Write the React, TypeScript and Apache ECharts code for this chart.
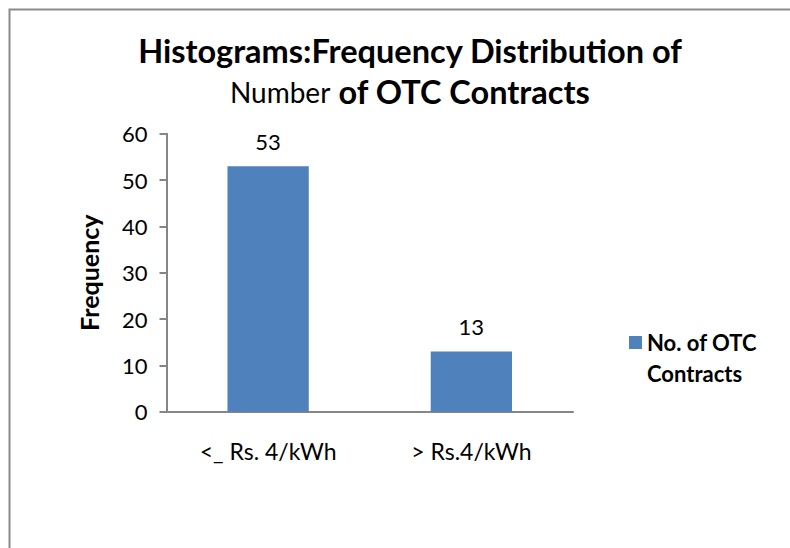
import React, { useEffect, useRef } from "react";
import * as echarts from "echarts";

const categories = ["<_ Rs. 4/kWh", "> Rs.4/kWh"];
const seriesName = "No. of OTC Contracts";
const values = [53, 13];
const yTicks = { min: 0, max: 60, interval: 10 };

export default function App() {
  const ref = useRef<HTMLDivElement>(null);
  useEffect(() => {
    document.body.style.margin = "0";
    const chart = echarts.init(ref.current!, null, { renderer: "svg" });
    const font = "Lato, 'Noto Sans', sans-serif";
    chart.setOption({
      animation: false,
      backgroundColor: "#ffffff",
      textStyle: { fontFamily: font },
      graphic: [
        {
          type: "rect",
          shape: { x: 9.5, y: 9.5, width: 800, height: 560 },
          style: { fill: "none", stroke: "#8a8a8a", lineWidth: 2 },
          silent: true,
        },
      ],
      title: {
        text: "{b|Histograms:Frequency Distribution of}\n{n|Number}{b| of OTC Contracts}",
        left: 405,
        top: 25,
        textAlign: "center",
        textStyle: {
          rich: {
            b: { fontFamily: font, fontWeight: "bold", fontSize: 32.5, color: "#000", lineHeight: 41 },
            n: { fontFamily: font, fontWeight: "normal", fontSize: 28, color: "#000", lineHeight: 41 },
          },
        },
      },
      legend: {
        data: [seriesName],
        left: 624,
        top: 291,
        orient: "vertical",
        itemWidth: 13,
        itemHeight: 13,
        itemGap: 8,
        icon: "rect",
        formatter: () => " \nNo. of OTC\nContracts",
        textStyle: {
          fontFamily: font,
          fontWeight: "bold",
          fontSize: 22,
          color: "#000",
          lineHeight: 31,
        },
      },
      grid: { left: 166.5, right: 217, top: 133.7, bottom: 136.3, containLabel: false },
      xAxis: {
        type: "category",
        data: categories,
        axisLine: { lineStyle: { color: "#868686", width: 2 } },
        axisTick: { show: false },
        axisLabel: { color: "#000", fontSize: 23, fontFamily: font, margin: 28 },
      },
      yAxis: {
        type: "value",
        min: yTicks.min,
        max: yTicks.max,
        interval: yTicks.interval,
        name: "Frequency",
        nameLocation: "middle",
        nameGap: 65,
        nameTextStyle: { color: "#000", fontSize: 25, fontWeight: "bold", fontFamily: font },
        axisLine: { show: true, lineStyle: { color: "#868686", width: 2 } },
        axisTick: { show: true, inside: false, length: 7, lineStyle: { color: "#868686", width: 2 } },
        splitLine: { show: false },
        axisLabel: { color: "#000", fontSize: 22, fontFamily: font, margin: 19 },
      },
      series: [
        {
          name: seriesName,
          type: "bar",
          data: values,
          barCategoryGap: "60%",
          itemStyle: { color: "#4F81BD" },
          label: {
            show: true,
            position: "top",
            distance: 14,
            color: "#000",
            fontSize: 22,
            fontFamily: font,
          },
        },
      ],
    });
    return () => chart.dispose();
  }, []);
  return <div ref={ref} style={{ width: 790, height: 548 }} />;
}
